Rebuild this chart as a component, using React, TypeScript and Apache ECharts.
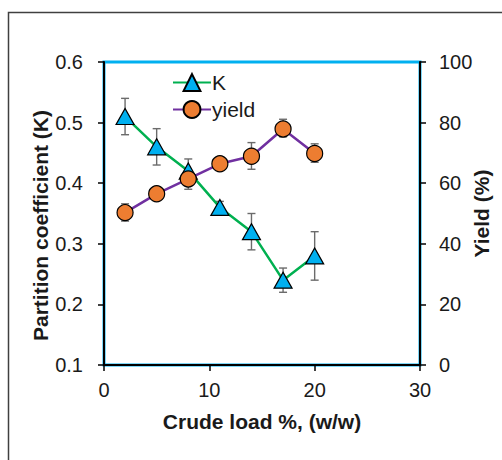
import React, { useEffect, useRef } from "react";
import * as echarts from "echarts";

const loads = [2, 5, 8, 11, 14, 17, 20];
const kValues = [0.51, 0.46, 0.42, 0.36, 0.32, 0.24, 0.28];
const kLow = [0.48, 0.43, 0.39, 0.35, 0.29, 0.22, 0.24];
const kHigh = [0.54, 0.49, 0.44, 0.37, 0.35, 0.26, 0.32];
const yieldValues = [50.3, 56.5, 61.4, 66.4, 68.9, 77.9, 69.8];
const yieldLow = [47.5, 55.0, 59.5, 65.0, 64.6, 75.3, 66.9];
const yieldHigh = [53.2, 58.0, 63.3, 67.8, 73.4, 81.1, 73.0];

const FONT = "'Liberation Sans', Arial, sans-serif";
const TEXT = "#1a1a1a";

function errorSeries(name: string, yAxisIndex: number, lows: number[], highs: number[]) {
  return {
    type: "custom",
    name,
    yAxisIndex,
    z: 1,
    silent: true,
    data: loads.map((x, i) => [x, lows[i], highs[i]]),
    renderItem: (params: any, api: any) => {
      const x = api.value(0);
      const lo = api.coord([x, api.value(1)]);
      const hi = api.coord([x, api.value(2)]);
      const cap = 4;
      const style = { stroke: "#6b6b6b", lineWidth: 1.4 };
      return {
        type: "group",
        children: [
          { type: "line", shape: { x1: lo[0], y1: lo[1], x2: hi[0], y2: hi[1] }, style },
          { type: "line", shape: { x1: lo[0] - cap, y1: lo[1], x2: lo[0] + cap, y2: lo[1] }, style },
          { type: "line", shape: { x1: hi[0] - cap, y1: hi[1], x2: hi[0] + cap, y2: hi[1] }, style },
        ],
      };
    },
  };
}

export default function App() {
  const ref = useRef<HTMLDivElement>(null);
  useEffect(() => {
    document.body.style.margin = "0";
    if (!ref.current) return;
    const chart = echarts.init(ref.current, undefined, { renderer: "svg" });
    const axisLine = { show: true, lineStyle: { color: "#000", width: 2 } };
    const axisTick = { show: true, length: 6, lineStyle: { color: "#000", width: 1.5 } };
    const axisLabel = { color: TEXT, fontSize: 20, fontFamily: FONT };
    const nameStyle = { color: TEXT, fontSize: 21, fontWeight: "bold", fontFamily: FONT };
    chart.setOption({
      animation: false,
      backgroundColor: "#fff",
      textStyle: { fontFamily: FONT },
      graphic: [
        {
          type: "rect",
          shape: { x: 8.5, y: 12.5, width: 700, height: 700 },
          style: { fill: "none", stroke: "#404040", lineWidth: 1.5 },
          z: 0,
        },
      ],
      grid: {
        left: 104,
        right: 82,
        top: 62,
        bottom: 95,
        outerBoundsMode: "none",
        containLabel: false,
        show: true,
        borderColor: "#00B0F0",
        borderWidth: 3,
        backgroundColor: "transparent",
      },
      legend: {
        orient: "vertical",
        left: 172,
        top: 72,
        padding: 0,
        itemWidth: 38,
        itemHeight: 21,
        itemGap: 6,
        textStyle: { color: TEXT, fontSize: 21, fontFamily: FONT, padding: [0, 0, 0, -4] },
        data: ["K", "yield"],
      },
      xAxis: {
        type: "value",
        min: 0,
        max: 30,
        interval: 10,
        axisLine,
        axisTick,
        axisLabel: { ...axisLabel, margin: 15 },
        splitLine: { show: false },
        name: "Crude load %, (w/w)",
        nameLocation: "middle",
        nameGap: 46,
        nameMoveOverlap: false,
        nameTextStyle: nameStyle,
      },
      yAxis: [
        {
          type: "value",
          min: 0.1,
          max: 0.6,
          interval: 0.1,
          position: "left",
          axisLine,
          axisTick,
          axisLabel: { ...axisLabel, margin: 21, formatter: (v: number) => v.toFixed(1) },
          splitLine: { show: false },
          name: "Partition coefficient (K)",
          nameLocation: "middle",
          nameGap: 53,
          nameRotate: 90,
          nameMoveOverlap: false,
          nameTextStyle: { ...nameStyle, padding: [0, 24, 0, 0] },
        },
        {
          type: "value",
          min: 0,
          max: 100,
          interval: 20,
          position: "right",
          axisLine,
          axisTick,
          axisLabel: { ...axisLabel, margin: 19 },
          splitLine: { show: false },
          name: "Yield (%)",
          nameLocation: "middle",
          nameGap: 51,
          nameRotate: 90,
          nameMoveOverlap: false,
          nameTextStyle: nameStyle,
        },
      ],
      series: [
        errorSeries("kErr", 0, kLow, kHigh),
        errorSeries("yieldErr", 1, yieldLow, yieldHigh),
        {
          type: "line",
          name: "K",
          yAxisIndex: 0,
          z: 3,
          data: loads.map((x, i) => [x, kValues[i]]),
          symbol: "triangle",
          symbolSize: [18, 16],
          lineStyle: { color: "#00B050", width: 2.5 },
          itemStyle: { color: "#00B0F0", borderColor: "#000", borderWidth: 1.2 },
        },
        {
          type: "line",
          name: "yield",
          yAxisIndex: 1,
          z: 4,
          data: loads.map((x, i) => [x, yieldValues[i]]),
          symbol: "circle",
          symbolSize: 16,
          lineStyle: { color: "#7030A0", width: 2.5 },
          itemStyle: { color: "#ED7D31", borderColor: "#000", borderWidth: 1.2 },
        },
      ],
    });
    return () => chart.dispose();
  }, []);
  return <div ref={ref} style={{ width: 502, height: 460 }} />;
}
